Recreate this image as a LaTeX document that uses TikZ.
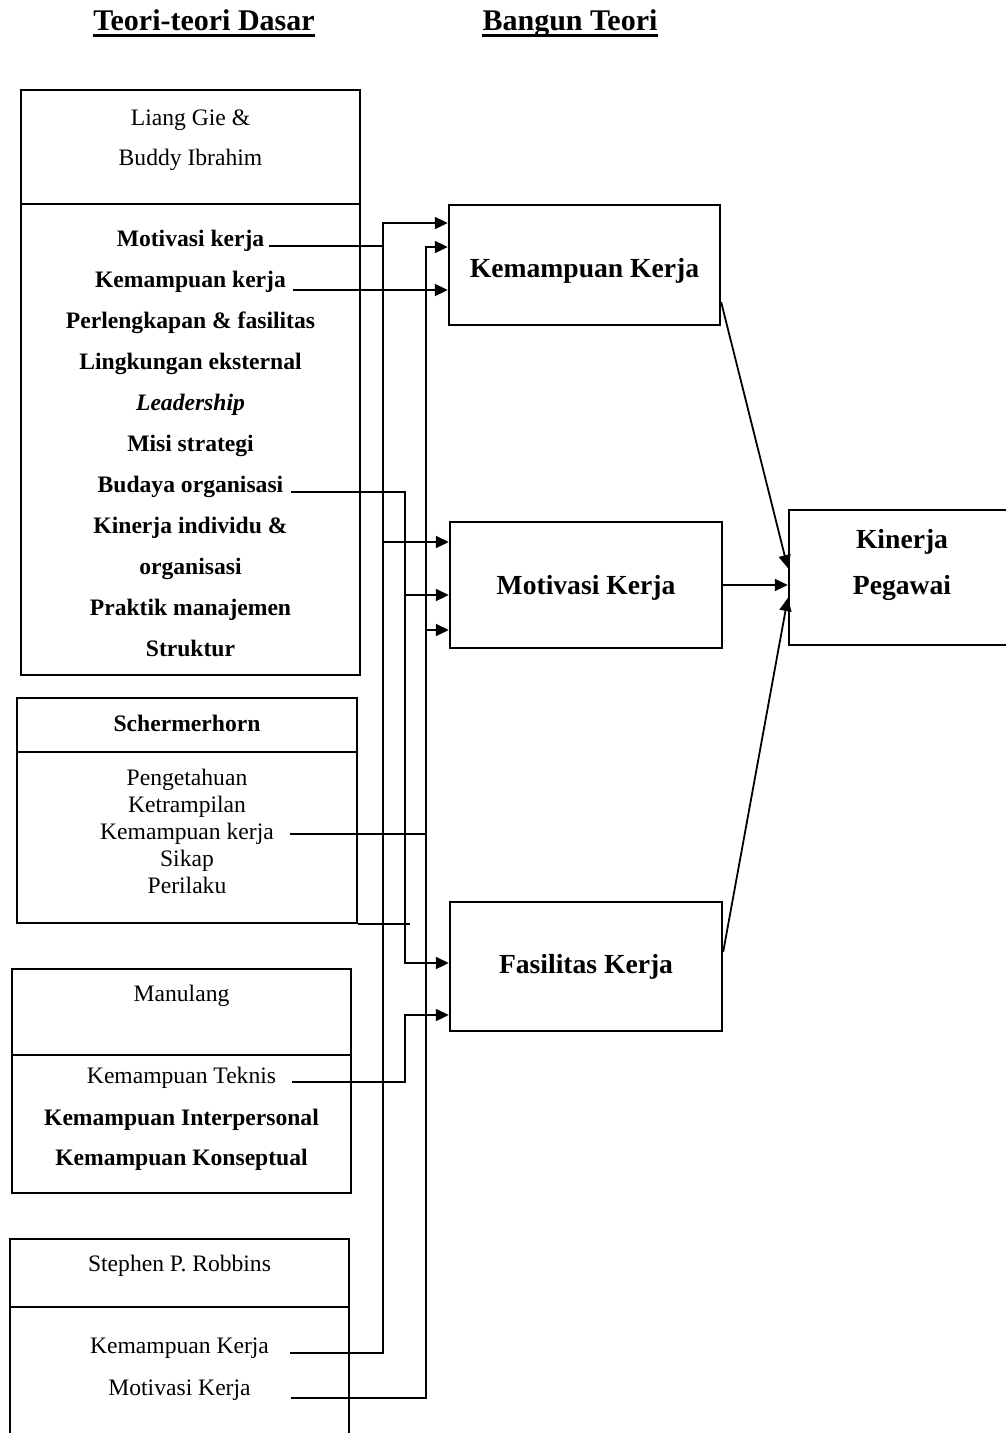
\documentclass[tikz,border=0pt]{standalone}
\usepackage{fontspec}
\setmainfont{Liberation Serif}
\usetikzlibrary{arrows.meta,calc}

\begin{document}
\begin{tikzpicture}[x=1pt,y=-1pt,
  srcbox/.style={draw, line width=2.4pt, inner sep=0pt},
  divline/.style={line width=1.6pt},
  conn/.style={line width=2pt},
  conntwo/.style={line width=1.8pt},
  arrowed/.style={-{Triangle[length=13pt,width=12pt]}},
  head/.style={font=\fontsize{30}{36}\selectfont\bfseries, anchor=base, inner sep=0pt},
  itemb/.style={font=\fontsize{23.6}{28}\selectfont\bfseries, anchor=base, inner sep=0pt},
  itemr/.style={font=\fontsize{23.6}{28}\selectfont, anchor=base, inner sep=0pt},
  itemi/.style={font=\fontsize{23.6}{28}\selectfont\bfseries\itshape, anchor=base, inner sep=0pt},
  title/.style={font=\fontsize{27.6}{32}\selectfont\bfseries, anchor=base, inner sep=0pt},
  uline/.style={line width=2.8pt}
]
\useasboundingbox (0,0) rectangle (1006,1433);
\clip (0,0) rectangle (1006,1433);

% headings
\node[head] (h1) at (204,30) {Teori-teori Dasar};
\node[head] (h2) at (570,30) {Bangun Teori};
\draw[uline] ([yshift=-5.7pt]h1.base west) -- ([yshift=-5.7pt]h1.base east);
\draw[uline] ([yshift=-5.7pt]h2.base west) -- ([yshift=-5.7pt]h2.base east);

% ---- source theories (left column) ----
% Liang Gie & Buddy Ibrahim
\node[srcbox, minimum width=339pt, minimum height=585pt] (lg) at (190.5,382.5) {};
\coordinate (lgd) at (0,204);
\draw[divline] (lg.west |- lgd) -- (lg.east |- lgd);
\node[itemr] (lga) at (190.5,125) {Liang Gie \&};
\node[itemr] (lgb) at (190.5,165) {Buddy Ibrahim};
\node[itemb] (lmk) at (190.5,246) {Motivasi kerja};
\node[itemb] (lkk) at (190.5,287) {Kemampuan kerja};
\node[itemb] (lpf) at (190.5,328) {Perlengkapan \& fasilitas};
\node[itemb] (lle) at (190.5,369) {Lingkungan eksternal};
\node[itemi] (lld) at (190.5,410) {Leadership};
\node[itemb] (lms) at (190.5,451) {Misi strategi};
\node[itemb] (lbo) at (190.5,492) {Budaya organisasi};
\node[itemb] (lki) at (190.5,533) {Kinerja individu \&};
\node[itemb] (lor) at (190.5,574) {organisasi};
\node[itemb] (lpm) at (190.5,615) {Praktik manajemen};
\node[itemb] (lst) at (190.5,656) {Struktur};

% Schermerhorn
\node[srcbox, minimum width=340pt, minimum height=225pt] (sch) at (187,810.5) {};
\coordinate (schd) at (0,752);
\draw[divline] (sch.west |- schd) -- (sch.east |- schd);
\node[itemb] (scht) at (187,731.5) {Schermerhorn};
\node[itemr] (spg) at (187,785) {Pengetahuan};
\node[itemr] (skt) at (187,812) {Ketrampilan};
\node[itemr] (skk) at (187,839) {Kemampuan kerja};
\node[itemr] (ssk) at (187,866) {Sikap};
\node[itemr] (spl) at (187,893) {Perilaku};

% Manulang
\node[srcbox, minimum width=339pt, minimum height=224pt] (man) at (181.5,1081) {};
\coordinate (mand) at (0,1055);
\draw[divline] (man.west |- mand) -- (man.east |- mand);
\node[itemr] (mant) at (181.5,1001.5) {Manulang};
\node[itemr] (mkt) at (181.5,1083) {Kemampuan Teknis};
\node[itemb] (mki) at (181.5,1125) {Kemampuan Interpersonal};
\node[itemb] (mkk) at (181.5,1165) {Kemampuan Konseptual};

% Stephen P. Robbins
\node[srcbox, minimum width=339pt, minimum height=221pt] (rob) at (179.5,1349.5) {};
\coordinate (robd) at (0,1307);
\draw[divline] (rob.west |- robd) -- (rob.east |- robd);
\node[itemr] (robt) at (179.5,1271.5) {Stephen P. Robbins};
\node[itemr] (rkk) at (179.5,1353) {Kemampuan Kerja};
\node[itemr] (rmk) at (179.5,1395) {Motivasi Kerja};

% ---- constructs (right column) ----
\node[srcbox, minimum width=271pt, minimum height=120pt] (kk) at (584.5,265) {};
\node[title] (kkt) at (584.5,277) {Kemampuan Kerja};
\node[srcbox, minimum width=272pt, minimum height=126pt] (mot) at (586,585) {};
\node[title] (mott) at (586,594) {Motivasi Kerja};
\node[srcbox, minimum width=272pt, minimum height=129pt] (fas) at (586,966.5) {};
\node[title] (fast) at (586,973) {Fasilitas Kerja};
\node[srcbox, minimum width=226pt, minimum height=135pt] (kp) at (902,577.5) {};
\node[title] (kpa) at (902,548) {Kinerja};
\node[title] (kpb) at (902,594) {Pegawai};

% ---- connector buses ----
\coordinate (busA) at (383,223);
\coordinate (busA2) at (383,542);
\coordinate (busB) at (426,247);
\coordinate (busB2) at (426,630);
\coordinate (busC) at (405,963);
\coordinate (busC2) at (405,595);
\coordinate (busD) at (405,1015);
\coordinate (schx) at (410,923);

\draw[conn] ([xshift=5pt]lmk.base east) -- (lmk.base -| busA);
\draw[conn,arrowed] ([xshift=7pt,yshift=-3pt]lkk.base east) -- ([yshift=-3pt]lkk.base -| kk.west);
\draw[conn,arrowed] ([xshift=8pt]lbo.base east) -| (busC) -- (busC -| fas.west);
\draw[conn,arrowed] (busC2) -- (busC2 -| mot.west);
\draw[conn,arrowed] ([xshift=21pt]rkk.base east) -| (busA) -- (busA -| kk.west);
\draw[conn,arrowed] (busA2) -- (busA2 -| mot.west);
\draw[conn,arrowed] ([xshift=40pt,yshift=-3pt]rmk.base east) -| (busB) -- (busB -| kk.west);
\draw[conn,arrowed] (busB2) -- (busB2 -| mot.west);
\draw[conn] ([xshift=16pt,yshift=5pt]skk.base east) -- ([yshift=5pt]skk.base -| busB);
\draw[conn] (sch.south east) -- (sch.south east -| schx);
\draw[conn,arrowed] ([xshift=16pt,yshift=1pt]mkt.base east) -| (busD) -- (busD -| fas.west);

% ---- constructs to employee performance ----
\draw[conntwo,arrowed] ([yshift=24pt]kk.south east) -- ([yshift=9.5pt]kp.west);
\draw[conntwo,arrowed] (mot.east) -- (mot.east -| kp.west);
\draw[conntwo,arrowed] ([yshift=-51pt]fas.north east) -- ([yshift=-20.5pt]kp.west);
\end{tikzpicture}
\end{document}
